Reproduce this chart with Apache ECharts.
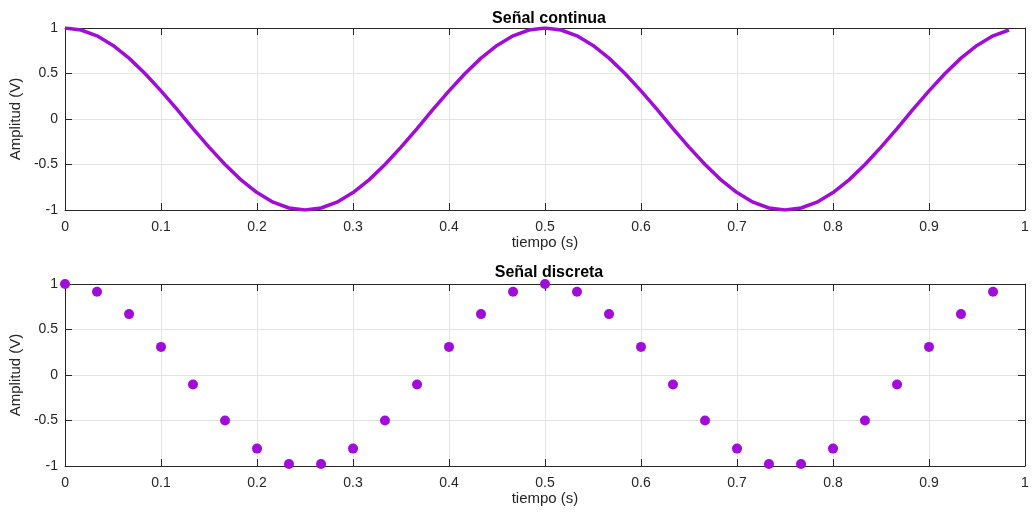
<!DOCTYPE html>
<html>
<head>
<meta charset="utf-8">
<script src="https://cdn.jsdelivr.net/npm/echarts@6/dist/echarts.min.js"></script>
<style>html,body{margin:0;padding:0;background:#fff}#c{width:1033px;height:518px}</style>
</head>
<body>
<div id="c"></div>
<script>
// Continuous signal (sampled)
const tCont = [0,0.0167,0.0333,0.05,0.0667,0.0833,0.1,0.1167,0.1333,0.15,0.1667,0.1833,0.2,0.2167,0.2333,0.25,0.2667,0.2833,0.3,0.3167,0.3333,0.35,0.3667,0.3833,0.4,0.4167,0.4333,0.45,0.4667,0.4833,0.5,0.5167,0.5333,0.55,0.5667,0.5833,0.6,0.6167,0.6333,0.65,0.6667,0.6833,0.7,0.7167,0.7333,0.75,0.7667,0.7833,0.8,0.8167,0.8333,0.85,0.8667,0.8833,0.9,0.9167,0.9333,0.95,0.9667,0.9833];
const yCont = [1,0.978,0.914,0.809,0.669,0.5,0.309,0.105,-0.105,-0.309,-0.5,-0.669,-0.809,-0.914,-0.978,-1,-0.978,-0.914,-0.809,-0.669,-0.5,-0.309,-0.105,0.105,0.309,0.5,0.669,0.809,0.914,0.978,
               1,0.978,0.914,0.809,0.669,0.5,0.309,0.105,-0.105,-0.309,-0.5,-0.669,-0.809,-0.914,-0.978,-1,-0.978,-0.914,-0.809,-0.669,-0.5,-0.309,-0.105,0.105,0.309,0.5,0.669,0.809,0.914,0.978];
// Discrete signal
const tDisc = [0,0.0333,0.0667,0.1,0.1333,0.1667,0.2,0.2333,0.2667,0.3,0.3333,0.3667,0.4,0.4333,0.4667,0.5,0.5333,0.5667,0.6,0.6333,0.6667,0.7,0.7333,0.7667,0.8,0.8333,0.8667,0.9,0.9333,0.9667];
const yDisc = [1,0.914,0.669,0.309,-0.105,-0.5,-0.809,-0.978,-0.978,-0.809,-0.5,-0.105,0.309,0.669,0.914,
               1,0.914,0.669,0.309,-0.105,-0.5,-0.809,-0.978,-0.978,-0.809,-0.5,-0.105,0.309,0.669,0.914];
const titles = ['Señal continua', 'Señal discreta'];
const xName = 'tiempo (s)';
const yName = 'Amplitud (V)';

const FONT = 'Liberation Sans';
const axisCol = '#262626';
const gridCol = '#e3e3e3';
const purple = '#a20cd8';

function xa(gi, pos, main) {
  return {
    type: 'value', gridIndex: gi, position: pos, min: 0, max: 1, interval: 0.1,
    name: main ? xName : '', nameLocation: 'middle', nameGap: 22,
    nameTextStyle: {fontFamily: FONT, fontSize: 15, color: axisCol},
    axisLine: {show: true, onZero: false, lineStyle: {color: axisCol, width: 1}},
    axisTick: {show: true, inside: true, length: 7, lineStyle: {color: axisCol}},
    axisLabel: {show: main, margin: 10, fontFamily: FONT, fontSize: 14, color: axisCol,
      formatter: v => String(+v.toFixed(1))},
    splitLine: {show: main, lineStyle: {color: gridCol, width: 1}}
  };
}
function ya(gi, pos, main) {
  return {
    type: 'value', gridIndex: gi, position: pos, min: -1, max: 1, interval: 0.5,
    name: main ? yName : '', nameLocation: 'middle', nameGap: 38,
    nameTextStyle: {fontFamily: FONT, fontSize: 15, color: axisCol},
    axisLine: {show: true, onZero: false, lineStyle: {color: axisCol, width: 1}},
    axisTick: {show: true, inside: true, length: 7, lineStyle: {color: axisCol}},
    axisLabel: {show: main, margin: 7, fontFamily: FONT, fontSize: 14, color: axisCol,
      formatter: v => String(+v.toFixed(1))},
    splitLine: {show: main, lineStyle: {color: gridCol, width: 1}}
  };
}

const chart = echarts.init(document.getElementById('c'), null, {renderer: 'canvas'});
chart.setOption({
  animation: false,
  backgroundColor: '#fff',
  title: [
    {text: titles[0], left: 544, top: 6, textAlign: 'center',
     textStyle: {fontFamily: FONT, fontSize: 16, fontWeight: 'bold', color: '#000'}},
    {text: titles[1], left: 544, top: 260, textAlign: 'center',
     textStyle: {fontFamily: FONT, fontSize: 16, fontWeight: 'bold', color: '#000'}}
  ],
  grid: [
    {left: 64, right: 8, top: 28, height: 182},
    {left: 64, right: 8, top: 284, height: 182}
  ],
  xAxis: [xa(0, 'bottom', true), xa(0, 'top', false), xa(1, 'bottom', true), xa(1, 'top', false)],
  yAxis: [ya(0, 'left', true), ya(0, 'right', false), ya(1, 'left', true), ya(1, 'right', false)],
  series: [
    {type: 'line', xAxisIndex: 0, yAxisIndex: 0, showSymbol: false, smooth: false,
     data: tCont.map((t, i) => [t, yCont[i]]),
     lineStyle: {color: purple, width: 3.5}, itemStyle: {color: purple}},
    {type: 'scatter', xAxisIndex: 2, yAxisIndex: 2, symbol: 'circle', symbolSize: 10,
     data: tDisc.map((t, i) => [t, yDisc[i]]),
     itemStyle: {color: purple, opacity: 1}}
  ]
});
</script>
</body>
</html>
